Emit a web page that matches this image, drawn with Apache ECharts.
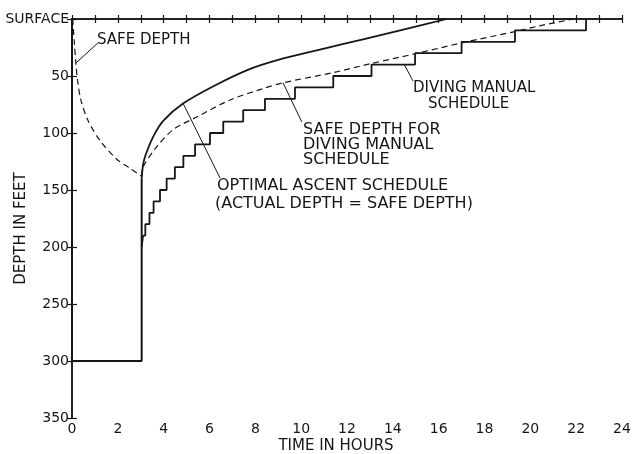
<!DOCTYPE html>
<html>
<head>
<meta charset="utf-8">
<script src="https://cdn.jsdelivr.net/npm/echarts@6/dist/echarts.min.js"></script>
<style>
  html, body { margin: 0; padding: 0; background: #fff; }
  #chart { width: 633px; height: 454px; }
</style>
</head>
<body>
<div id="chart"></div>
<script>
// time in hours, depth in feet
const profileT = [0, 0, 3.04, 3.04];
const profileD = [0, 300, 300, 140];

// optimal ascent (actual depth = safe depth)
const optimalT = [3.04, 3.1, 3.2, 3.55, 4.0, 4.86, 6.17, 7.62, 9.07, 11.0, 12.7, 14.5, 16.35];
const optimalD = [140, 128, 120, 103, 89, 74, 59, 45, 35.5, 26, 17.8, 9, 0];

// safe depth during bottom time
const safeT = [0.03, 0.1, 0.17, 0.25, 0.4, 0.7, 1.2, 1.95, 2.53, 3.04];
const safeD = [0, 20, 39, 55, 72, 89, 106, 123, 131, 138];

// diving manual schedule: stop depth and time the stop is left
const stopDepths = [200, 190, 180, 170, 160, 150, 140, 130, 120, 110, 100, 90, 80, 70, 60, 50, 40, 30, 20, 10];
const stopEnds = [3.1, 3.2, 3.38, 3.56, 3.84, 4.13, 4.49, 4.86, 5.37, 6.02, 6.6, 7.47, 8.42, 9.73, 11.4, 13.07, 14.97, 17.0, 19.33, 22.43];

// safe depth for diving manual schedule
const manualSafeT = [3.04, 3.11, 3.7, 4.42, 5.44, 6.9, 8.35, 9.2, 11.4, 13.07, 14.97, 17.0, 19.33, 20.4, 21.9];
const manualSafeD = [138, 129.5, 112, 97, 86, 71, 61, 56, 47, 39, 30.5, 21, 11, 6, 0];

// leader lines of the notes [t1, d1, t2, d2]
const leaders = [
  [0.17, 38.6, 1.13, 21],
  [4.84, 73.7, 6.46, 139.5],
  [9.21, 56, 10.03, 90.4],
  [14.49, 39.5, 14.88, 54.4],
];

const xTicks = [0, 2, 4, 6, 8, 10, 12, 14, 16, 18, 20, 22, 24];

const ink = "#161616";
const font = "DejaVu Sans";

const zip = (a, b) => a.map((v, i) => [v, b[i]]);

const stairs = [[3.04, 200]];
stopDepths.forEach((d, i) => {
  stairs.push([stopEnds[i], d]);
  stairs.push([stopEnds[i], i + 1 < stopDepths.length ? stopDepths[i + 1] : 0]);
});

const myChart = echarts.init(document.getElementById("chart"));

const axisLine = { show: true, lineStyle: { color: ink, width: 1.5 } };
const tick = (len) => ({ show: true, inside: true, length: len, lineStyle: { color: ink, width: 1.2 } });

const solid = (name, data, width, smooth) => ({
  name,
  type: "line",
  data,
  smooth: smooth || false,
  symbol: "none",
  lineStyle: { color: ink, width },
  z: 3,
});

const dashed = (name, data) => ({
  name,
  type: "line",
  data,
  smooth: 0.3,
  symbol: "none",
  lineStyle: { color: ink, width: 1.2, type: [6, 4] },
  z: 2,
});

const texts = [
  { text: "SAFE DEPTH", x: 97, y: 40, size: 15 },
  { text: "SAFE DEPTH FOR", x: 303, y: 130, size: 16 },
  { text: "DIVING MANUAL", x: 303, y: 145, size: 16 },
  { text: "SCHEDULE", x: 303, y: 160, size: 16 },
  { text: "OPTIMAL ASCENT SCHEDULE", x: 217, y: 186, size: 16 },
  { text: "(ACTUAL DEPTH = SAFE DEPTH)", x: 215, y: 204, size: 16 },
  { text: "DIVING MANUAL", x: 413, y: 88.5, size: 15 },
  { text: "SCHEDULE", x: 428, y: 104, size: 15 },
];

const option = {
  animation: false,
  backgroundColor: "#fff",
  grid: { left: 72, right: 11, top: 19, bottom: 36, containLabel: false, outerBoundsMode: "none" },
  xAxis: [
    {
      type: "value",
      min: 0,
      max: 24,
      interval: 1,
      axisLine,
      axisTick: tick(4),
      splitLine: { show: false },
      axisLabel: {
        color: ink,
        fontFamily: font,
        fontSize: 14,
        margin: 4,
        formatter: (v) => (xTicks.includes(v) ? String(v) : ""),
      },
      name: "TIME IN HOURS",
      nameLocation: "middle",
      nameGap: 21,
      nameMoveOverlap: false,
      nameTextStyle: { color: ink, fontFamily: font, fontSize: 15, padding: [0, 22, 0, 0] },
    },
    {
      type: "value",
      position: "top",
      min: 0,
      max: 24,
      interval: 1,
      axisLine,
      axisTick: tick(4),
      axisLabel: { show: false },
      splitLine: { show: false },
    },
  ],
  yAxis: [
    {
      type: "value",
      inverse: true,
      min: 0,
      max: 350,
      interval: 50,
      axisLine,
      axisTick: tick(5),
      splitLine: { show: false },
      axisLabel: {
        color: ink,
        fontFamily: font,
        fontSize: 14,
        margin: 3,
        formatter: (v) => (v === 0 ? "SURFACE" : String(v)),
      },
      name: "DEPTH IN FEET",
      nameLocation: "middle",
      nameRotate: 90,
      nameGap: 43,
      nameMoveOverlap: false,
      nameTextStyle: { color: ink, fontFamily: font, fontSize: 15, padding: [0, 20, 0, 0] },
    },
    {
      type: "value",
      position: "right",
      inverse: true,
      min: 0,
      max: 350,
      interval: 50,
      axisLine,
      axisTick: tick(5),
      axisLabel: { show: false },
      splitLine: { show: false },
    },
  ],
  series: [
    solid("profile", zip(profileT, profileD), 2),
    solid("optimal", zip(optimalT, optimalD), 1.8, 0.3),
    solid("manual", stairs, 1.8),
    dashed("safe", zip(safeT, safeD)),
    dashed("manualSafe", zip(manualSafeT, manualSafeD)),
    ...leaders.map((l, i) => ({
      name: "leader" + i,
      type: "line",
      data: [[l[0], l[1]], [l[2], l[3]]],
      symbol: "none",
      lineStyle: { color: ink, width: 1 },
      z: 1,
    })),
  ],
  graphic: texts.map((t) => ({
    type: "text",
    x: t.x,
    y: t.y,
    style: {
      text: t.text,
      fill: ink,
      font: t.size + "px " + font,
      verticalAlign: "middle",
      align: "left",
    },
  })),
};

myChart.setOption(option);
</script>
</body>
</html>
